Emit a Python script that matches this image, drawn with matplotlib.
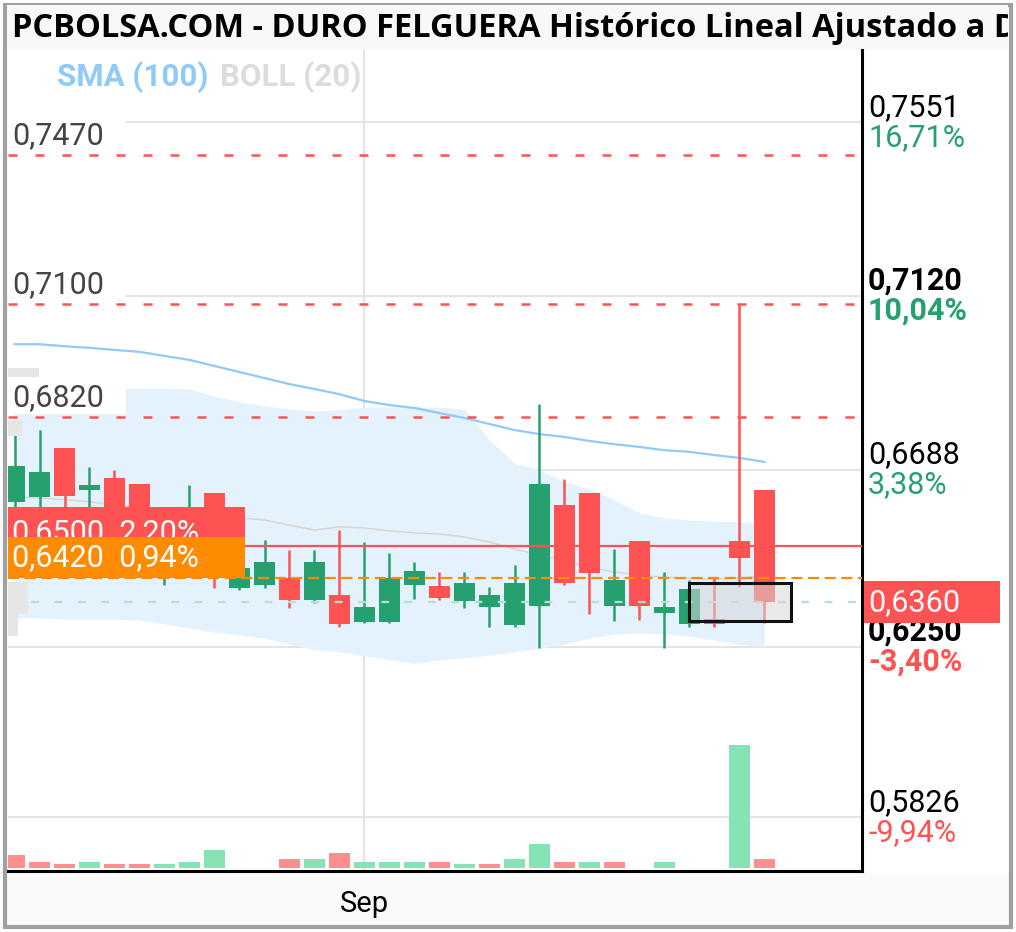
import numpy as np
import matplotlib
matplotlib.use("Agg")
import matplotlib.pyplot as plt
from matplotlib.patches import Rectangle

plt.rcParams['font.family'] = ['Roboto', 'DejaVu Sans']

# ---- data (daily candles, last ~31 sessions) ----
opens = [0.6609, 0.6621, 0.6742, 0.6638, 0.6668, 0.6653, 0.6450, 0.6460, 0.6631, 0.6395,
         0.6403, 0.6420, 0.6366, 0.6378, 0.6311, 0.6311, 0.6403, 0.6400, 0.6363, 0.6348,
         0.6304, 0.6351, 0.6601, 0.6631, 0.6351, 0.6512, 0.6334, 0.6306, 0.6318, 0.6512,
         0.6638]
highs = [0.6800, 0.6787, 0.6742, 0.6695, 0.6688, 0.6653, 0.6500, 0.6650, 0.6631, 0.6470,
         0.6514, 0.6490, 0.6490, 0.6539, 0.6509, 0.6482, 0.6460, 0.6435, 0.6435, 0.6398,
         0.6452, 0.6852, 0.6666, 0.6631, 0.6492, 0.6512, 0.6435, 0.6415, 0.6420, 0.7100,
         0.6638]
lows = [0.6570, 0.6590, 0.6590, 0.6595, 0.6520, 0.6500, 0.6403, 0.6440, 0.6395, 0.6390,
        0.6395, 0.6346, 0.6358, 0.6299, 0.6309, 0.6309, 0.6368, 0.6366, 0.6346, 0.6299,
        0.6299, 0.6247, 0.6403, 0.6331, 0.6314, 0.6316, 0.6247, 0.6299, 0.6299, 0.6398,
        0.6309]
closes = [0.6698, 0.6683, 0.6623, 0.6650, 0.6540, 0.6530, 0.6480, 0.6500, 0.6440, 0.6445,
          0.6460, 0.6366, 0.6460, 0.6306, 0.6348, 0.6420, 0.6438, 0.6370, 0.6408, 0.6378,
          0.6408, 0.6653, 0.6408, 0.6432, 0.6415, 0.6351, 0.6348, 0.6393, 0.6306, 0.6470,
          0.6360]
volumes = [13, 6, 4, 6, 4, 4, 4, 6, 18, 0, 0, 9, 9, 15, 6, 6, 6, 6, 4, 4, 9, 24, 6, 6, 6,
           0, 6, 0, 0, 123, 9]
vol_up = [0, 0, 0, 1, 0, 0, 1, 1, 1, 1, 1, 0, 1, 0, 1, 1, 1, 0, 1, 0, 1, 1, 0, 1, 0, 0, 1,
          0, 0, 1, 0]
sma100 = [0.7000, 0.7000, 0.6995, 0.6991, 0.6986, 0.6981, 0.6971, 0.6961, 0.6946, 0.6931,
          0.6916, 0.6901, 0.6889, 0.6876, 0.6859, 0.6849, 0.6842, 0.6829, 0.6817, 0.6802,
          0.6787, 0.6777, 0.6770, 0.6760, 0.6752, 0.6745, 0.6737, 0.6733, 0.6725, 0.6718,
          0.6708]
boll_up = [0.6891, 0.6891, 0.6891, 0.6891, 0.6891, 0.6891, 0.6891, 0.6889, 0.6871, 0.6857,
           0.6847, 0.6839, 0.6834, 0.6837, 0.6844, 0.6844, 0.6844, 0.6844, 0.6839, 0.6762,
           0.6705, 0.6688, 0.6658, 0.6641, 0.6614, 0.6581, 0.6569, 0.6564, 0.6561, 0.6559,
           0.6556]
boll_mid = [0.6621, 0.6618, 0.6614, 0.6609, 0.6601, 0.6594, 0.6589, 0.6581, 0.6574, 0.6569,
            0.6564, 0.6551, 0.6539, 0.6547, 0.6544, 0.6537, 0.6532, 0.6529, 0.6522, 0.6509,
            0.6492, 0.6477, 0.6462, 0.6447, 0.6435, 0.6427, 0.6422, 0.6420, 0.6417, 0.6420,
            0.6425]
boll_low = [0.6321, 0.6321, 0.6318, 0.6318, 0.6318, 0.6316, 0.6306, 0.6296, 0.6286, 0.6279,
            0.6271, 0.6256, 0.6242, 0.6237, 0.6227, 0.6217, 0.6209, 0.6217, 0.6222, 0.6229,
            0.6237, 0.6246, 0.6256, 0.6271, 0.6281, 0.6284, 0.6281, 0.6276, 0.6266, 0.6256,
            0.6249]

month_tick = 14
month_label = 'Sep'

right_levels = [0.7551, 0.7120, 0.6688, 0.6250, 0.5826]
right_pcts = ['16,71%', '10,04%', '3,38%', '-3,40%', '-9,94%']
right_bold = [False, True, False, True, False]

left_levels = [0.7470, 0.7100, 0.6820]
alert_red = 0.6500
alert_red_pct = '2,20%'
alert_orange = 0.6420
alert_orange_pct = '0,94%'
last_price = closes[-1]

# highlighted zone (sessions 27-30)
sel_x = (26.98, 31.06)
sel_y = (0.6313, 0.6408)

title = 'PCBOLSA.COM - DURO FELGUERA Histórico Lineal Ajustado a Dividendos'

GREEN = '#26a06e'
RED = '#ff5252'
ORANGE = '#ff8c00'

y_lo, y_hi = 0.5693, 0.7730
W, H = 1016, 932


def fmt(v):
    return f'{v:.4f}'.replace('.', ',')


fig = plt.figure(figsize=(W / 100, H / 100), dpi=100)
fig.patch.set_facecolor('white')

# background / frame in pixel coordinates
bg = fig.add_axes([0, 0, 1, 1], zorder=-5)
bg.set_xlim(0, W)
bg.set_ylim(H, 0)
bg.axis('off')
bg.add_patch(Rectangle((7, 873), 1002, 52, fc='#fafafa', ec='none'))
bg.add_patch(Rectangle((5, 5), 1006, 922, fc='none', ec='#a0a0a0', lw=3))

tax = fig.add_axes([7 / W, (H - 50) / H, 1001 / W, 45 / H], zorder=-4)
tax.set_facecolor('#f8f8f8')
tax.set_xticks([])
tax.set_yticks([])
for s in tax.spines.values():
    s.set_visible(False)
tax.text(0.005, 0.47, title, transform=tax.transAxes, fontsize=23.5, fontweight='bold',
         family=['Open Sans', 'DejaVu Sans'], va='center', ha='left', clip_on=True)

ax = fig.add_axes([8 / W, (H - 871) / H, 854 / W, 821 / H])
ax.set_xlim(-0.26, 33.9)
ax.set_ylim(y_lo, y_hi)
ppx = (y_hi - y_lo) / 821.0   # price per pixel
x = np.arange(len(opens))

# grid
for lv in right_levels:
    ax.axhline(lv, color='#e4e4e4', lw=1.5, zorder=0)
ax.axvline(month_tick, color='#e4e4e4', lw=1.5, zorder=0)

# bollinger + sma
ax.fill_between(x, boll_low, boll_up, color='#e3f2fd', lw=0, zorder=1)
ax.plot(x, boll_mid, color='#dad2ce', lw=1.0, zorder=2)
ax.plot(x, sma100, color='#90caf9', lw=1.6, zorder=2)

# volume
axv = ax.twinx()
vmax = max(volumes)
axv.set_ylim(-vmax * 0.025, vmax / 0.15)
axv.bar(x, volumes, width=0.84, color=['#86e3b6' if u else '#ff8f8f' for u in vol_up], zorder=1)
axv.set_yticks([])
for s in axv.spines.values():
    s.set_visible(False)
axv.set_zorder(ax.get_zorder() + 1)
axv.patch.set_visible(False)

# candles
o = np.array(opens)
c = np.array(closes)
col = np.where(c >= o, GREEN, RED)
ax.vlines(x, lows, highs, colors=col, lw=1.8, zorder=5)
ax.bar(x, np.maximum(np.abs(c - o), 0.0007), bottom=np.minimum(o, c), width=0.84,
       color=col, zorder=6)

# level lines
for lv in left_levels:
    ax.axhline(lv, color=RED, lw=1.8, ls=(0, (3.6, 7.2)), zorder=7)
ax.axhline(alert_red, color=RED, lw=1.6, zorder=7)
ax.axhline(alert_orange, color=ORANGE, lw=1.6, ls=(0, (5, 2.5)), zorder=7)
ax.axhline(last_price, color='#b5e0cc', lw=1.6, ls=(0, (3.5, 7)), zorder=7)

# selection box on the last sessions
ax.add_patch(Rectangle((sel_x[0], sel_y[0]), sel_x[1] - sel_x[0], sel_y[1] - sel_y[0],
                       fc='#d8d8d8', alpha=0.55, ec='none', zorder=8))
ax.add_patch(Rectangle((sel_x[0], sel_y[0]), sel_x[1] - sel_x[0], sel_y[1] - sel_y[0],
                       fc='none', ec='#111111', lw=2.2, zorder=8))

# faint grey tags on the left edge
ytr = ax.get_yaxis_transform()
for (x0, x1, ya, yb) in [(0, 31, 368, 377), (0, 14, 420, 436), (0, 20, 582, 614),
                         (0, 10, 614, 636)]:
    ax.add_patch(Rectangle((x0 / 854, y_hi - (yb - 50) * ppx), (x1 - x0) / 854,
                           (yb - ya) * ppx, transform=ytr, fc='#e6e6e6', ec='none',
                           zorder=9))

# left labels
for lv in left_levels:
    ax.add_patch(Rectangle((0, lv + 3 * ppx), 118 / 854, 34 * ppx, transform=ytr,
                           fc='white', ec='none', zorder=9))
    ax.text(4 / 854, lv + 19 * ppx, fmt(lv), transform=ytr, fontsize=22, color='#444444',
            va='center', ha='left', zorder=10)

ax.add_patch(Rectangle((0, alert_red - 3 * ppx), 237 / 854, 42 * ppx, transform=ytr,
                       fc=RED, ec='none', zorder=10))
ax.text(4 / 854, alert_red + 13 * ppx, fmt(alert_red) + '  ' + alert_red_pct, transform=ytr,
        fontsize=22, color='white', va='center', ha='left', zorder=10)
ax.add_patch(Rectangle((0, alert_orange), 237 / 854, 41 * ppx, transform=ytr,
                       fc=ORANGE, ec='none', zorder=11))
ax.text(4 / 854, alert_orange + 20 * ppx, fmt(alert_orange) + '  ' + alert_orange_pct,
        transform=ytr, fontsize=22, color='white', va='center', ha='left', zorder=11)

# legend
ax.text(49 / 854, 0.967, 'SMA (100)', transform=ax.transAxes, fontsize=22.5,
        fontweight='bold', color='#90caf9', va='center', ha='left', zorder=12)
ax.text(212 / 854, 0.967, 'BOLL (20)', transform=ax.transAxes, fontsize=22.5,
        fontweight='bold', color='#dcdcdc', va='center', ha='left', zorder=12)

# right axis labels
for lv, pct, b in zip(right_levels, right_pcts, right_bold):
    w = 'bold' if b else 'normal'
    pc = RED if pct.startswith('-') else GREEN
    ax.text(1.007, lv + 15 * ppx, fmt(lv), transform=ytr, fontsize=22, color='black',
            fontweight=w, va='center', ha='left', clip_on=False)
    ax.text(1.007, lv - 15 * ppx, pct, transform=ytr, fontsize=22, color=pc,
            fontweight=w, va='center', ha='left', clip_on=False)

ax.add_patch(Rectangle((1.002, last_price - 21 * ppx), 136 / 854, 42 * ppx, transform=ytr,
                       fc=RED, ec='none', clip_on=False, zorder=12))
ax.text(1.007, last_price, fmt(last_price), transform=ytr, fontsize=22, color='white',
        va='center', ha='left', clip_on=False, zorder=13)

# axes frame and ticks
ax.set_yticks([])
ax.set_xticks([month_tick], [month_label])
ax.tick_params(axis='x', length=0, pad=14, labelsize=21)
ax.spines['left'].set_visible(False)
ax.spines['top'].set_visible(False)
ax.spines['right'].set_linewidth(2.2)
ax.spines['bottom'].set_linewidth(2.2)
ax.set_facecolor('white')

fig.savefig('out.png', dpi=100)
